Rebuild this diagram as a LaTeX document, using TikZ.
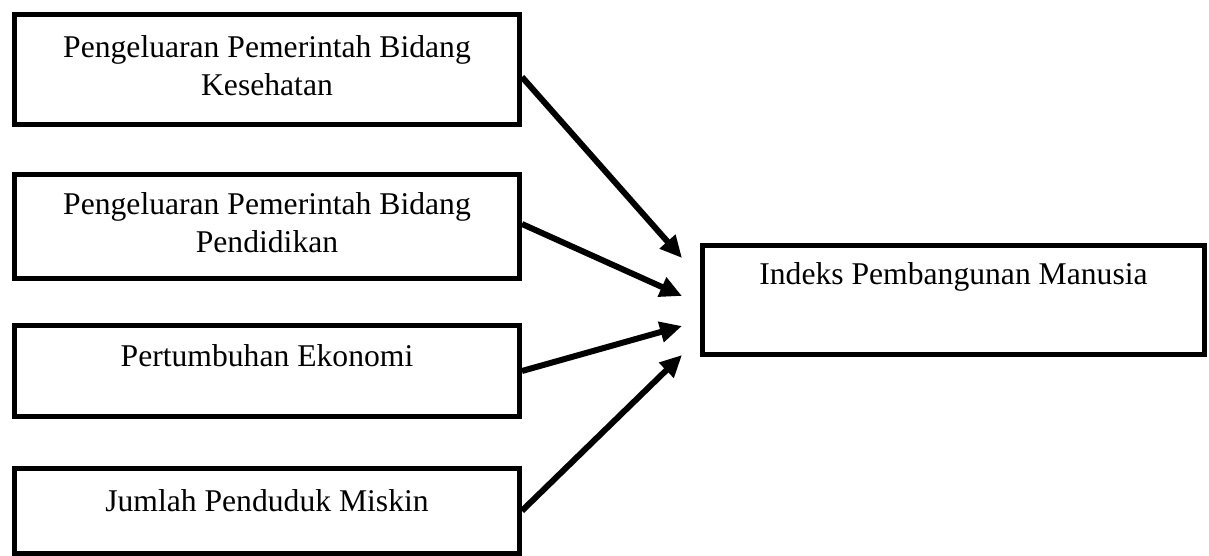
\documentclass[tikz,border=0pt]{standalone}
\usepackage{fontspec}
\setmainfont{Liberation Serif}
\usetikzlibrary{arrows.meta}

\begin{document}
\begin{tikzpicture}[
  box/.style={shape=rectangle, draw=black, line width=0.1cm, minimum width=10.1cm, inner sep=0pt},
  txt/.style={align=center, font=\fontsize{18}{21.6}\selectfont, inner sep=0pt},
  arr/.style={-{Triangle[length=0.44cm, width=0.4cm]}, line width=0.12cm, draw=black}
]
\useasboundingbox (0,0) rectangle (24.18,-11.12);
\node[box, minimum height=2.2cm] (kes) at (5.34,-1.39) {};
\node[box, minimum height=2.08cm] (pend) at (5.34,-4.53) {};
\node[box, minimum height=1.82cm] (eko) at (5.34,-7.42) {};
\node[box, minimum height=1.69cm] (miskin) at (5.34,-10.215) {};
\node[box, minimum width=10.04cm, minimum height=2.18cm] (ipm) at (19.07,-6.0) {};
\node[txt] (kesT) at (5.34,-1.32) {Pengeluaran Pemerintah Bidang\\Kesehatan};
\node[txt] (pendT) at (5.34,-4.46) {Pengeluaran Pemerintah Bidang\\Pendidikan};
\node[txt] (ekoT) at (5.34,-7.12) {Pertumbuhan Ekonomi};
\node[txt] (miskinT) at (5.34,-10.02) {Jumlah Penduduk Miskin};
\node[txt] (ipmT) at (19.07,-5.54) {Indeks Pembangunan Manusia};
\coordinate (e1) at (13.64,-5.16);
\coordinate (e2) at (13.64,-5.92);
\coordinate (e3) at (13.64,-6.52);
\coordinate (e4) at (13.64,-7.10);
\draw[arr] ([yshift=-0.15cm]kes.east) -- (e1);
\draw[arr] ([yshift=0.05cm]pend.east) -- (e2);
\draw[arr] (eko.east) -- (e3);
\draw[arr] (miskin.east) -- (e4);
\end{tikzpicture}
\end{document}
